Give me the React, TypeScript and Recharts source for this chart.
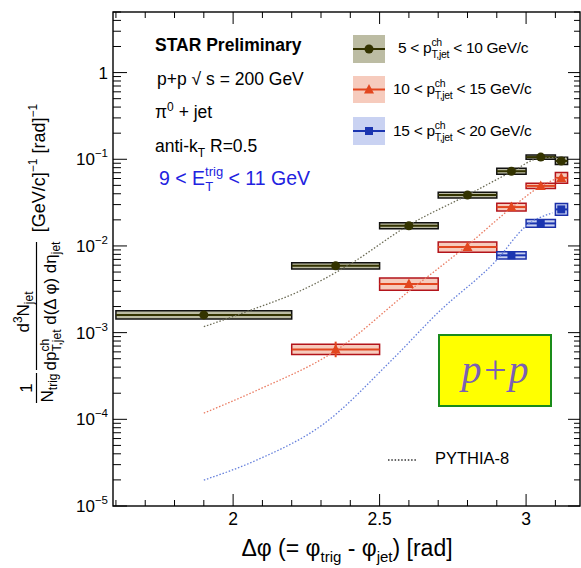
import React from 'react';
import { ComposedChart, XAxis, YAxis, Line, Scatter, ReferenceArea, ReferenceLine } from 'recharts';

// delta-phi bins (rad)
const binLo = [1.6, 2.2, 2.5, 2.7, 2.9, 3.0, 3.1];
const binHi = [2.2, 2.5, 2.7, 2.9, 3.0, 3.1, 3.1416];
const binMid = [1.9, 2.35, 2.6, 2.8, 2.95, 3.05, 3.12];

// 5 < pT < 10 (all bins)
const lowVals = [1.6e-3, 5.9e-3, 0.0171, 0.0386, 0.0728, 0.106, 0.0956];
const lowSys = [0.116, 0.087, 0.083, 0.078, 0.083, 0.06, 0.102];
const lowStat = [0.03, 0.02, 0.02, 0.02, 0.02, 0.02, 0.03];

// 10 < pT < 15 (from 2.2)
const midVals = [6.4e-4, 3.63e-3, 9.7e-3, 0.0281, 0.0493, 0.061];
const midSys = [0.146, 0.177, 0.146, 0.107, 0.073, 0.157];
const midStat = [0.23, 0.04, 0.03, 0.03, 0.03, 0.06];

// 15 < pT < 20 (from 2.9)
const highVals = [7.8e-3, 0.0182, 0.0264];
const highSys = [0.102, 0.107, 0.168];
const highStat = [0.05, 0.04, 0.06];

// PYTHIA-8 curves
const pyLowX = [1.9, 2.07, 2.23, 2.39, 2.6, 2.8, 2.95, 3.05, 3.14];
const pyLowY = [1.17e-3, 1.87e-3, 3.04e-3, 5.9e-3, 0.0174, 0.0386, 0.0715, 0.1035, 0.1054];
const pyMidX = [1.9, 2.08, 2.35, 2.6, 2.8, 2.95, 3.05, 3.11];
const pyMidY = [1.18e-4, 2.15e-4, 6.2e-4, 3.0e-3, 0.0102, 0.0275, 0.0489, 0.061];
const pyHighX = [1.9, 2.08, 2.31, 2.54, 2.7, 2.9, 3.0, 3.09];
const pyHighY = [1.99e-5, 3.38e-5, 8.9e-5, 4.77e-4, 1.71e-3, 6.9e-3, 0.017, 0.0241];

const xTicks = [1.6, 1.7, 1.8, 1.9, 2, 2.1, 2.2, 2.3, 2.4, 2.5, 2.6, 2.7, 2.8, 2.9, 3, 3.1];
const xMajor = [2, 2.5, 3];
const yDecades = [-5, -4, -3, -2, -1, 0];

const Y_MIN = 1e-5, Y_MAX = 5;
const X_MIN = 1.59, X_MAX = 3.184;
const yTicks = yDecades.flatMap(e => [1, 2, 3, 4, 5, 6, 7, 8, 9].map(m => m * Math.pow(10, e))).filter(v => v <= Y_MAX * 1.0001);

const PLOT = { left: 113, right: 580, top: 12, bottom: 506 };
const FONT = '"Liberation Sans", Arial, Helvetica, sans-serif';

const toPts = (first: number, vals: number[], sys: number[], stat: number[]) =>
  vals.map((v, i) => ({ x: binMid[first + i], y: v, lo: binLo[first + i], hi: binHi[first + i], sys: sys[i], stat: stat[i] }));
const toCurve = (xs: number[], ys: number[]) => xs.map((x, i) => ({ x, y: ys[i] }));

const series = [
  { key: 'low', pts: toPts(0, lowVals, lowSys, lowStat), fill: '#bcbca3', edge: '#111', line: '#333300', marker: 'circle', py: toCurve(pyLowX, pyLowY), pyColor: '#6b6b55' },
  { key: 'mid', pts: toPts(1, midVals, midSys, midStat), fill: '#f6cbbd', edge: '#b3141b', line: '#e2461f', marker: 'triangle', py: toCurve(pyMidX, pyMidY), pyColor: '#ea7a60' },
  { key: 'high', pts: toPts(4, highVals, highSys, highStat), fill: '#c9d2f2', edge: '#1b2fa8', line: '#1b35b0', marker: 'square', py: toCurve(pyHighX, pyHighY), pyColor: '#6680dc' },
];

const Marker = ({ cx, cy, kind, color }: any) => {
  if (cx == null || cy == null) return null;
  if (kind === 'circle') return <circle cx={cx} cy={cy} r={4.5} fill={color} />;
  if (kind === 'triangle') return <polygon points={`${cx},${cy - 5.5} ${cx - 5},${cy + 4} ${cx + 5},${cy + 4}`} fill={color} />;
  return <rect x={cx - 4} y={cy - 4} width={8} height={8} fill={color} />;
};

const YTick = (props: any) => {
  const { x, y, payload } = props;
  const v = payload.value;
  const lg = Math.log10(v);
  const e = Math.round(lg);
  const major = Math.abs(lg - e) < 1e-6;
  const pw = PLOT.right - PLOT.left;
  return (
    <g>
      <line x1={x} x2={x + (major ? 14 : 8)} y1={y} y2={y} stroke="#000" strokeWidth={1} />
      <line x1={x + pw} x2={x + pw - (major ? 12 : 6)} y1={y} y2={y} stroke="#000" strokeWidth={1} />
      {major && (
        <text x={x - 5} y={y + 6} textAnchor="end" fontSize={17} fontFamily={FONT} fill="#000">
          {e === 0 ? '1' : '10'}
          {e !== 0 && <tspan fontSize={11.5} dy={-8}>{`\u2212${-e}`}</tspan>}
        </text>
      )}
    </g>
  );
};

const XTick = (props: any) => {
  const { x, y, payload } = props;
  const v = payload.value;
  const major = xMajor.some(m => Math.abs(m - v) < 1e-6);
  const ph = PLOT.bottom - PLOT.top;
  return (
    <g>
      <line x1={x} x2={x} y1={y} y2={y - (major ? 12 : 6)} stroke="#000" strokeWidth={1} />
      <line x1={x} x2={x} y1={y - ph} y2={y - ph + (major ? 12 : 6)} stroke="#000" strokeWidth={1} />
      {major && (
        <text x={x} y={y + 19} textAnchor="middle" fontSize={17.5} fontFamily={FONT} fill="#000">{String(v)}</text>
      )}
    </g>
  );
};

const PtLabel = ({ x, y, lo, hi }: any) => (
  <text x={x} y={y} fontSize={15.5} letterSpacing={-0.3} fill="#000">
    {`${lo} < p`}
    <tspan fontSize={10.5} dy={-7}>ch</tspan>
    <tspan fontSize={10.5} dx={-10.5} dy={12}>T,jet</tspan>
    <tspan dy={-5}>{` < ${hi} GeV/c`}</tspan>
  </text>
);

const legendRows = [
  { lo: 5, hi: 10, y: 35, h: 28, tx: 398, ty: 52.5 },
  { lo: 10, hi: 15, y: 76, h: 27, tx: 393, ty: 94 },
  { lo: 15, hi: 20, y: 117, h: 28, tx: 393, ty: 135.5 },
];

export default function App() {
  const XAXIS_H = 40, YAXIS_W = 60;
  return (
    <div style={{ position: 'relative', width: 581, height: 568, background: '#fff' }}>
      <style>{'body{margin:0}'}</style>
      <ComposedChart
        width={581}
        height={568}
        margin={{ top: PLOT.top, right: 581 - PLOT.right, bottom: 568 - PLOT.bottom - XAXIS_H, left: PLOT.left - YAXIS_W }}
      >
        <XAxis
          type="number"
          dataKey="x"
          domain={[X_MIN, X_MAX]}
          allowDataOverflow
          ticks={xTicks}
          interval={0}
          tick={<XTick />}
          tickSize={0}
          tickMargin={0}
          tickLine={false}
          axisLine={false}
          height={XAXIS_H}
        />
        <YAxis
          type="number"
          dataKey="y"
          scale="log"
          domain={[Y_MIN, Y_MAX]}
          allowDataOverflow
          ticks={yTicks}
          interval={0}
          tick={<YTick />}
          tickSize={0}
          tickMargin={0}
          tickLine={false}
          axisLine={false}
          width={YAXIS_W}
        />
        {series.flatMap(s =>
          s.pts.map((p, i) => (
            <ReferenceArea
              key={`${s.key}-box-${i}`}
              x1={p.lo}
              x2={p.hi}
              y1={p.y / (1 + p.sys)}
              y2={p.y * (1 + p.sys)}
              fill={s.fill}
              fillOpacity={1}
              stroke={s.edge}
              strokeWidth={1.5}
              ifOverflow="visible"
            />
          ))
        )}
        {series.flatMap(s =>
          s.pts.map((p, i) => (
            <ReferenceLine
              key={`${s.key}-cl-${i}`}
              segment={[{ x: p.lo, y: p.y }, { x: p.hi, y: p.y }]}
              stroke={s.line}
              strokeWidth={2}
              ifOverflow="visible"
            />
          ))
        )}
        {series.flatMap(s =>
          s.pts.map((p, i) => (
            <ReferenceLine
              key={`${s.key}-st-${i}`}
              segment={[{ x: p.x, y: p.y / (1 + p.stat) }, { x: p.x, y: p.y * (1 + p.stat) }]}
              stroke={s.line}
              strokeWidth={2}
              ifOverflow="visible"
            />
          ))
        )}
        {series.map(s => (
          <Line
            key={`${s.key}-py`}
            data={s.py}
            dataKey="y"
            type="monotone"
            stroke={s.pyColor}
            strokeWidth={1.3}
            strokeDasharray="1.5 1.8"
            dot={false}
            activeDot={false}
            isAnimationActive={false}
          />
        ))}
        {series.map(s => (
          <Scatter
            key={`${s.key}-pts`}
            data={s.pts}
            dataKey="y"
            isAnimationActive={false}
            shape={(props: any) => <Marker cx={props.cx} cy={props.cy} kind={s.marker} color={s.line} />}
          />
        ))}
      </ComposedChart>

      <svg width={581} height={568} style={{ position: 'absolute', left: 0, top: 0, pointerEvents: 'none' }} fontFamily={FONT}>
        <rect x={PLOT.left} y={PLOT.top} width={PLOT.right - PLOT.left} height={PLOT.bottom - PLOT.top} fill="none" stroke="#000" strokeWidth={1.4} />

        {/* annotations */}
        <text x={155} y={51} fontSize={17.5} fontWeight="bold">STAR Preliminary</text>
        <text x={157} y={85} fontSize={17.5}>{'p+p \u221A s = 200 GeV'}</text>
        <text x={155} y={118} fontSize={17.5}>
          {'\u03C0'}<tspan fontSize={12} dy={-7}>0</tspan><tspan dy={7}> + jet</tspan>
        </text>
        <text x={155} y={152} fontSize={17.5}>
          anti-k<tspan fontSize={12} dy={5}>T</tspan><tspan dy={-5}> R=0.5</tspan>
        </text>
        <text x={159} y={185} fontSize={19.5} fill="#2222e0">
          {'9 < E'}
          <tspan fontSize={13} dy={-9}>trig</tspan>
          <tspan fontSize={13} dx={-18} dy={15}>T</tspan>
          <tspan dx={10} dy={-6}>{' < 11 GeV'}</tspan>
        </text>

        {/* legend */}
        {legendRows.map((r, i) => {
          const s = series[i];
          const cy = r.y + r.h / 2;
          return (
            <g key={`leg-${i}`}>
              <rect x={353} y={r.y} width={32} height={r.h} fill={s.fill} />
              <line x1={353} x2={385} y1={cy} y2={cy} stroke={s.line} strokeWidth={2} />
              <Marker cx={369} cy={cy} kind={s.marker} color={s.line} />
              <PtLabel x={r.tx} y={r.ty} lo={r.lo} hi={r.hi} />
            </g>
          );
        })}

        {/* p+p box */}
        <rect x={439} y={335} width={112} height={71} fill="#ffff00" stroke="#1a8c1a" strokeWidth={2} />
        <text x={495} y={383} textAnchor="middle" fontSize={40} fontStyle="italic" fontFamily='"Liberation Serif", "Times New Roman", serif' fill="#7b5fb5">p+p</text>

        {/* PYTHIA legend */}
        <line x1={388} x2={416} y1={460} y2={460} stroke="#333" strokeWidth={1.3} strokeDasharray="1.5 1.8" />
        <text x={435} y={464} fontSize={16.5}>PYTHIA-8</text>

        {/* x title */}
        <text x={347} y={556} textAnchor="middle" fontSize={23}>
          {'\u0394\u03C6 (= \u03C6'}
          <tspan fontSize={15} dy={6}>trig</tspan>
          <tspan dy={-6}>{' - \u03C6'}</tspan>
          <tspan fontSize={15} dy={6}>jet</tspan>
          <tspan dy={-6}>{') [rad]'}</tspan>
        </text>

        {/* y title */}
        <text transform="translate(32,388) rotate(-90)" textAnchor="middle" fontSize={17}>1</text>
        <line x1={36.5} x2={36.5} y1={373} y2={403} stroke="#000" strokeWidth={1.2} />
        <text transform="translate(53,388) rotate(-90)" textAnchor="middle" fontSize={17}>
          N<tspan fontSize={12} dy={4}>trig</tspan>
        </text>
        <text transform="translate(29,312) rotate(-90)" textAnchor="middle" fontSize={17}>
          d<tspan fontSize={12} dy={-7}>3</tspan>
          <tspan dy={7}>N</tspan>
          <tspan fontSize={12} dy={4}>jet</tspan>
        </text>
        <line x1={36.5} x2={36.5} y1={242} y2={370} stroke="#000" strokeWidth={1.2} />
        <text transform="translate(56,306) rotate(-90)" textAnchor="middle" fontSize={17}>
          dp<tspan fontSize={12} dy={-7}>ch</tspan>
          <tspan fontSize={12} dx={-12.7} dy={12}>T,jet</tspan>
          <tspan dy={-5}>{' d(\u0394 \u03C6) d\u03B7'}</tspan>
          <tspan fontSize={12} dy={4}>jet</tspan>
        </text>
        <text transform="translate(45,168) rotate(-90)" textAnchor="middle" fontSize={18}>
          [GeV/c]<tspan fontSize={12} dy={-8}>{'\u22121'}</tspan>
          <tspan dy={8}>{' [rad]'}</tspan>
          <tspan fontSize={12} dy={-8}>{'\u22121'}</tspan>
        </text>
      </svg>
    </div>
  );
}
